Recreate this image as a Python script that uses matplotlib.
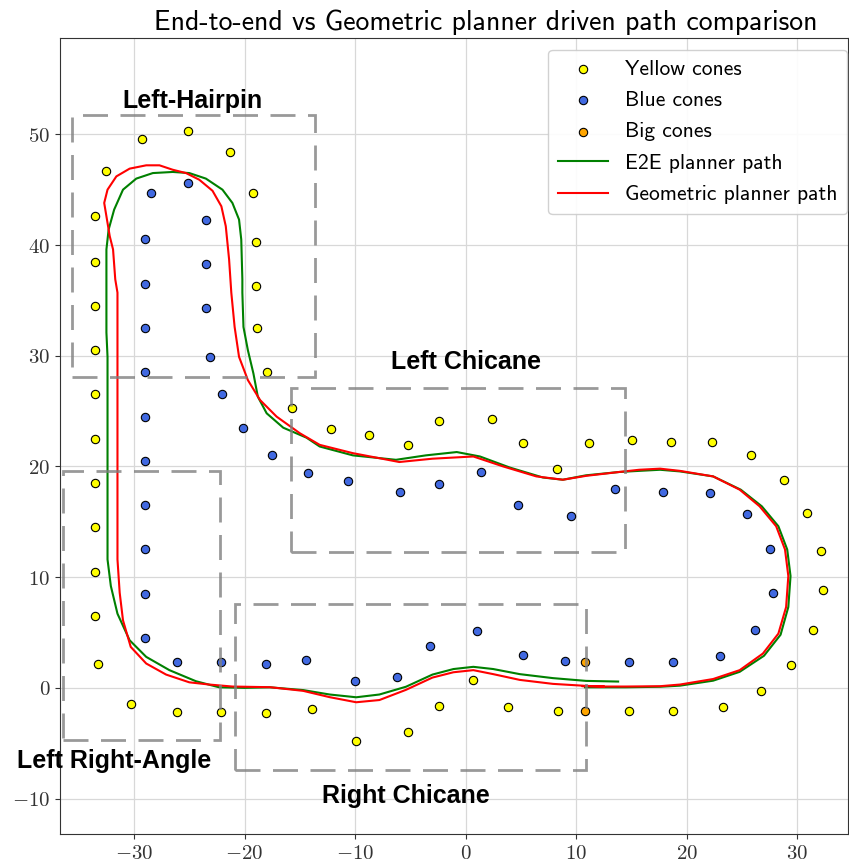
import matplotlib
matplotlib.use("Agg")
import matplotlib.pyplot as plt
from matplotlib.ticker import FuncFormatter, MultipleLocator
from matplotlib.patches import Rectangle

plt.rcParams['mathtext.fontset'] = 'cm'
plt.rcParams['font.family'] = ['cmss10', 'DejaVu Sans']

# cone positions (m)
yellow_x = [-33.5, -33.5, -33.5, -33.5, -33.5, -33.5, -33.5, -33.5, -33.5, -33.5, -33.3,
            -32.5, -29.3, -25.1, -21.3, -19.2, -19.0, -19.0, -18.9, -18.0, -15.7, -12.2,
            -8.7, -5.2, -2.4, 2.4, 5.2, 8.3, 11.2, 15.1, 18.6, 22.3, 25.8, 28.8, 30.9,
            32.2, 32.3, 31.4, 29.4, 26.7, 23.3, 18.8, 14.8, 8.4, 3.8, 0.7, -2.4, -5.2,
            -9.9, -13.9, -18.1, -22.1, -26.1, -30.3]
yellow_y = [42.6, 38.5, 34.5, 30.5, 26.5, 22.5, 18.5, 14.5, 10.5, 6.5, 2.2,
            46.7, 49.6, 50.3, 48.4, 44.7, 40.3, 36.3, 32.5, 28.5, 25.3, 23.4,
            22.8, 21.9, 24.1, 24.3, 22.1, 19.8, 22.1, 22.4, 22.2, 22.2, 21.0, 18.8, 15.8,
            12.4, 8.8, 5.2, 2.1, -0.3, -1.7, -2.1, -2.1, -2.1, -1.7, 0.7, -1.6, -4.0,
            -4.8, -1.9, -2.3, -2.2, -2.2, -1.5]

blue_x = [-28.5, -25.1, -23.5, -29.0, -23.5, -29.0, -23.5, -29.0, -23.1, -29.0, -22.0,
          -29.0, -20.1, -17.5, -14.3, -29.0, -29.0, -29.0, -29.0, -29.0,
          -10.6, -5.9, -2.4, 1.4, 4.7, 9.5, 13.5, 17.9, 22.1, 25.5, 27.5, 27.8, 26.2,
          23.0, 18.8, 14.8, 9.0, 5.2, 1.0, -3.2, -6.2, -10.0, -14.4, -18.1, -22.1, -26.1]
blue_y = [44.7, 45.6, 42.3, 40.5, 38.3, 36.5, 34.3, 32.5, 29.9, 28.5, 26.5,
          24.5, 23.5, 21.0, 19.4, 20.5, 16.5, 12.5, 8.5, 4.5,
          18.7, 17.7, 18.4, 19.5, 16.5, 15.5, 18.0, 17.7, 17.6, 15.7, 12.5, 8.6, 5.2,
          2.9, 2.3, 2.3, 2.4, 3.0, 5.1, 3.8, 1.0, 0.6, 2.5, 2.2, 2.3, 2.3]

big_x = [10.8, 10.8]
big_y = [2.3, -2.1]

# driven paths (m)
e2e_x = [10.8, 14.5, 17.6, 19.4, 22.4, 24.8, 27.0, 28.5, 29.2, 29.4, 29.1, 28.3, 26.8,
         24.9, 22.4, 19.4, 17.6, 15.7, 13.9, 10.9, 8.8, 7.0, 4.0, 1.3, -0.8, -3.6, -6.3,
         -10.2, -13.2, -14.4, -16.5, -18.0, -18.8, -19.2, -19.7, -20.1, -20.2, -20.2,
         -20.3, -20.5, -21.1, -22.0, -23.5, -25.0, -26.5, -28.3, -29.8, -31.0, -31.8,
         -32.3, -32.5, -32.5, -32.5, -32.4, -32.4, -32.4, -32.4, -32.1, -31.5, -30.4,
         -28.9, -26.8, -24.4, -22.3, -20.0, -17.7, -14.7, -12.3, -9.9, -7.8, -5.4, -3.0,
         -1.1, 0.7, 2.5, 4.9, 7.9, 10.9, 13.8]
e2e_y = [0.05, 0.05, 0.1, 0.2, 0.65, 1.45, 2.9, 4.8, 7.3, 10.1, 12.5, 14.6, 16.4,
         17.9, 19.1, 19.55, 19.7, 19.6, 19.5, 19.2, 18.8, 19.0, 19.9, 20.9, 21.3, 21.0, 20.6,
         21.0, 21.8, 22.6, 23.5, 24.8, 26.3, 28.4, 30.5, 32.6, 35.7, 36.9,
         40.5, 42.3, 43.8, 45.0, 46.0, 46.5, 46.6, 46.5, 46.0, 45.0, 43.2,
         41.4, 39.6, 36.9, 32.1, 29.9, 26.6, 20.0, 11.6, 9.2, 6.7, 4.3,
         2.8, 1.6, 0.6, 0.05, 0.0, 0.05, -0.2, -0.6, -0.85, -0.6, 0.1, 1.2,
         1.7, 1.9, 1.7, 1.24, 0.88, 0.63, 0.57]

geo_x = [10.6, 12.5, 14.5, 17.6, 19.4, 22.4, 24.8, 26.9, 28.3, 29.0, 29.2, 28.9, 28.1,
         26.6, 24.8, 22.4, 19.4, 17.6, 15.7, 13.9, 10.9, 8.8, 6.4, 3.4, 0.7, -3.0, -6.0,
         -10.2, -13.2, -15.0, -17.1, -18.6, -19.7, -20.5, -20.9, -21.2, -21.4, -21.7,
         -22.1, -22.9, -24.1, -25.3, -26.5, -27.7, -28.9, -30.4, -31.6, -32.4, -32.7,
         -32.5, -32.2, -31.9, -31.7, -31.5, -31.5, -31.5, -31.3, -31.0, -30.3, -28.9,
         -27.1, -25.0, -23.2, -21.1, -17.7, -14.7, -12.3, -9.9, -7.8, -5.4, -3.0, -1.1,
         0.7, 2.5, 4.9, 7.9, 10.9, 12.5]
geo_y = [0.15, 0.12, 0.12, 0.15, 0.3, 0.8, 1.6, 3.1, 4.9, 7.3, 10.1, 12.5, 14.6,
         16.4, 17.9, 19.1, 19.6, 19.8, 19.7, 19.5, 19.15, 18.8, 19.1, 20.0, 20.9, 20.7, 20.4,
         21.2, 21.95, 23.0, 24.5, 26.0, 27.8, 29.9, 32.6, 35.7, 38.7, 41.7,
         43.5, 44.9, 45.9, 46.5, 46.8, 47.2, 47.2, 46.9, 46.2, 45.0, 43.8,
         42.6, 40.8, 39.6, 36.9, 35.7, 20.0, 11.6, 8.6, 6.1, 3.7, 2.2,
         1.2, 0.5, 0.3, 0.12, 0.06, -0.27, -0.84, -1.3, -1.1, -0.18, 0.93, 1.41,
         1.6, 1.24, 0.72, 0.36, 0.18, 0.12]

# track sections: name, box corners, label position
sections = ['Left-Hairpin', 'Left Chicane', 'Left Right-Angle', 'Right Chicane']
sec_x0 = [-35.6, -15.8, -36.4, -20.9]
sec_y0 = [28.1, 12.3, -4.7, -7.4]
sec_x1 = [-13.6, 14.4, -22.2, 10.9]
sec_y1 = [51.7, 27.1, 19.6, 7.6]
sec_lx = [-24.7, 0.0, -31.8, -5.4]
sec_ly = [53.0, 29.4, -6.6, -9.8]

fig = plt.figure(figsize=(8.49, 8.65), dpi=100)
ax = fig.add_axes([60 / 849, 1 - 834 / 865, 788 / 849, 796 / 865])

ax.scatter(yellow_x, yellow_y, s=36, c='yellow', edgecolors='black', linewidths=0.8,
           label='Yellow cones', zorder=3)
ax.scatter(blue_x, blue_y, s=36, c='royalblue', edgecolors='black', linewidths=0.8,
           label='Blue cones', zorder=3)
ax.scatter(big_x, big_y, s=36, c='orange', edgecolors='black', linewidths=0.8,
           label='Big cones', zorder=3)
ax.plot(e2e_x, e2e_y, color='green', lw=1.5, label='E2E planner path', zorder=4)
ax.plot(geo_x, geo_y, color='red', lw=1.5, label='Geometric planner path', zorder=4)

for name, x0, y0, x1, y1, lx, ly in zip(sections, sec_x0, sec_y0, sec_x1, sec_y1,
                                         sec_lx, sec_ly):
    ax.add_patch(Rectangle((x0, y0), x1 - x0, y1 - y0, fill=False, edgecolor='gray',
                           alpha=0.8, lw=2, linestyle=(0, (9, 4.5)), zorder=5))
    ax.text(lx, ly, name, fontsize=18, fontweight='bold', family='Liberation Sans',
            ha='center', va='center', zorder=6)

ax.set_xlim(-36.7, 34.6)
ax.set_ylim(-13.2, 58.7)
ax.xaxis.set_major_locator(MultipleLocator(10))
ax.yaxis.set_major_locator(MultipleLocator(10))
fmt = FuncFormatter(lambda v, p: r'$%d$' % round(v))
ax.xaxis.set_major_formatter(fmt)
ax.yaxis.set_major_formatter(fmt)
ax.tick_params(labelsize=15, colors='#333333')
ax.grid(True, color='#d8d8d8', lw=0.9, zorder=0)
ax.set_axisbelow(True)
for sp in ax.spines.values():
    sp.set_color('#333333')

fig.text(486 / 849, 1 - 22 / 865, 'End-to-end vs Geometric planner driven path comparison',
         fontsize=20, ha='center', va='center')

ax.legend(loc='upper right', bbox_to_anchor=(847 / 849, 1 - 50 / 865),
          bbox_transform=fig.transFigure, borderaxespad=0, fontsize=15.5,
          handlelength=2.3, handletextpad=0.8, borderpad=0.45, labelspacing=0.57,
          framealpha=0.9, edgecolor='#cccccc')

fig.savefig('out.png', dpi=100)
